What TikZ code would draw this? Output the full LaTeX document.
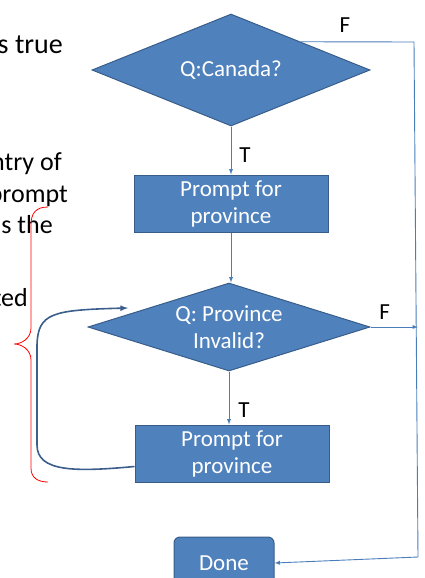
\documentclass[tikz,border=0pt]{standalone}
\usepackage{fontspec}
\setmainfont{Carlito}
\usepackage{tikz}
\usetikzlibrary{arrows,shapes.geometric}
\definecolor{boxblue}{RGB}{79,129,189}
\definecolor{boxedge}{RGB}{56,93,138}
\definecolor{linkblue}{RGB}{74,126,187}
\definecolor{penblue}{RGB}{59,94,140}

\begin{document}
\begin{tikzpicture}[x=1pt,y=-1pt,
every node/.style={inner sep=0pt},
question/.style={diamond,fill=boxblue,draw=boxedge,line width=1pt,text=white,
	font=\fontsize{23}{27}\selectfont,align=center},
prompt/.style={rectangle,fill=boxblue,draw=boxedge,line width=1pt,text=white,
	font=\fontsize{23}{27}\selectfont,align=center,minimum width=194pt,minimum height=57pt},
link/.style={draw=linkblue,line width=0.9pt},
tf/.style={font=\fontsize{23}{27}\selectfont},
notes/.style={font=\fontsize{26}{31}\selectfont,anchor=base east}]
\path[use as bounding box,clip] (0,0) rectangle (424,578);

%slide text cut off at the left
\node[notes,font=\fontsize{28}{34}\selectfont](n0) at (63,53) {s true};
\node[notes](n1) at (62,170) {ntry of};
\node[notes](n2) at (68,202) {prompt};
\node[notes](n3) at (53,233) {s the};
\node[notes](n4) at (28,306) {ted};

%flow chart
\node[question,minimum width=278pt,minimum height=112pt,aspect=2.5](can) at (231,70) {Q:Canada?};
\node[prompt](ask1) at (231,203.5) {Prompt for\\province};
\node[question,minimum width=282pt,minimum height=88pt,aspect=3.2](inv) at (229,327) {Q: Province\\Invalid?};
\node[prompt](ask2) at (232,453.5) {Prompt for\\province};
\node[prompt,rounded corners=6pt,minimum width=100pt,minimum height=52pt](done) at (224,563) {Done};

\coordinate(fr1) at (414,42);
\coordinate(fr2) at (418,557);
\coordinate(lp) at (128,308);

%true branches
\draw[link,-latex](can.south) -- (ask1.north) node[tf,pos=.6,anchor=west,xshift=8pt]{T};
\draw[link,-latex](ask1.south) -- (ask1.south |- inv.north);
\draw[link,-latex](inv.south) -- (inv.south |- ask2.north) node[tf,pos=.72,anchor=west,xshift=9pt]{T};

%false branches
\draw[link,-latex](can.north east) -- (fr1) node[tf,pos=.39,anchor=south,yshift=9pt]{F} -- (fr2) -- (done.east);
\draw[link,-latex](inv.east) -- (inv.east -| fr2) node[tf,pos=.3,anchor=south,yshift=7pt]{F};

%pen strokes
\draw[penblue,line width=1.6pt,-latex]([yshift=-13pt]ask2.west) .. controls (75,472) and (37,472) .. (37,445)
	-- (37,345) .. controls (38,313) and (52,310) .. (lp);
\draw[red,line width=0.8pt](48,207) .. controls (36,207) and (31,213) .. (31,225) -- (31,328)
	.. controls (31,338) and (22,344) .. (14,344) .. controls (22,344) and (31,350) .. (31,360)
	-- (31,468) .. controls (31,478) and (38,482) .. (48,482);
\end{tikzpicture}
\end{document}
